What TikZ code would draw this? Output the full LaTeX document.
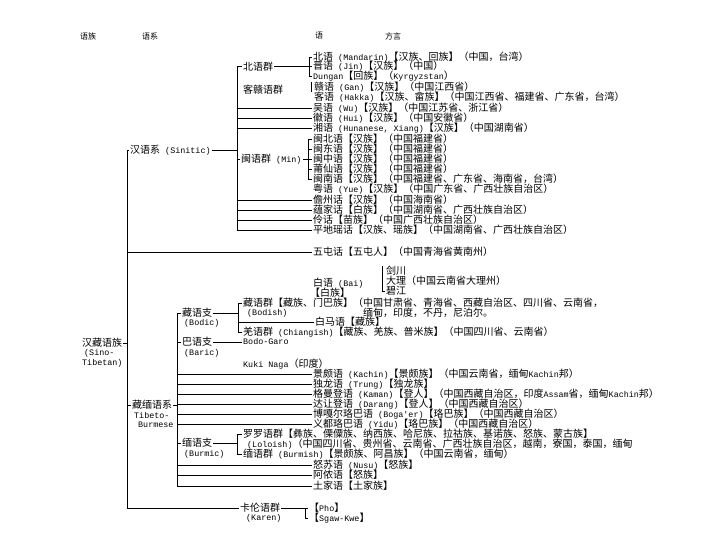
\documentclass[tikz,border=0pt]{standalone}
\usepackage{fontspec}
\newfontfamily\cjk{Noto Sans CJK SC}
\newfontfamily\asciifont{Liberation Mono}
\newcommand\lt[1]{{\asciifont\fontsize{8.4}{10}\selectfont #1}}
\begin{document}
\begin{tikzpicture}[x=1pt,y=-1pt]
\tikzset{
  txt/.style={anchor=west, inner sep=0pt, font=\cjk\fontsize{10}{10}\selectfont},
  hdr/.style={anchor=west, inner sep=0pt, font=\cjk\fontsize{8}{8}\selectfont},
  ln/.style={line width=0.7pt, black},
}
\useasboundingbox[fill=white] (0,0) rectangle (720,540);
% spine x positions
\coordinate (xA) at (127,0);
\coordinate (xB) at (237,0);
\coordinate (xBei) at (309,0);
\coordinate (xMin) at (308,0);
\coordinate (xBai) at (382,0);
\coordinate (xF) at (177,0);
\coordinate (xG) at (238,0);
\coordinate (xH) at (237,0);
\coordinate (xI) at (305,0);
% header
\node[hdr] (h1) at (80,36) {语族};
\node[hdr] (h2) at (142,36) {语系};
\node[hdr] (h3) at (315,36) {语};
\node[hdr] (h4) at (385,36) {方言};
% Sino-Tibetan
\node[txt] (st) at (82,343) {汉藏语族};
\node[txt] (st2) at (84,353) {\lt{(Sino-}};
\node[txt] (st3) at (82,363) {\lt{Tibetan)}};
% Sinitic
\node[txt] (sino) at (130,150) {汉语系\lt{ (Sinitic)}};
\node[txt] (bei) at (243,67) {北语群};
\node[txt] (n1) at (313,57) {北语\lt{ (Mandarin)}【汉族、回族】（中国，台湾）};
\node[txt] (n2) at (313,66) {晋语\lt{ (Jin)}【汉族】（中国）};
\node[txt] (n3) at (313,76) {\lt{Dungan}【回族】（\lt{Kyrgyzstan}）};
\node[txt] (kegan) at (243,90) {客赣语群};
\node[txt] (gan) at (314,87) {赣语\lt{ (Gan)}【汉族】（中国江西省）};
\node[txt] (ke) at (314,97) {客语\lt{ (Hakka)}【汉族、畲族】（中国江西省、福建省、广东省，台湾）};
\node[txt] (wu) at (313,108) {吴语\lt{ (Wu)}【汉族】（中国江苏省、浙江省）};
\node[txt] (hui) at (313,118) {徽语\lt{ (Hui)}【汉族】（中国安徽省）};
\node[txt] (xiang) at (313,128) {湘语\lt{ (Hunanese, Xiang)}【汉族】（中国湖南省）};
\node[txt] (minq) at (241,159) {闽语群\lt{ (Min)}};
\node[txt] (m1) at (313,139) {闽北语【汉族】（中国福建省）};
\node[txt] (m2) at (313,149) {闽东语【汉族】（中国福建省）};
\node[txt] (m3) at (313,159) {闽中语【汉族】（中国福建省）};
\node[txt] (m4) at (313,169) {莆仙语【汉族】（中国福建省）};
\node[txt] (m5) at (313,179) {闽南语【汉族】（中国福建省、广东省、海南省，台湾）};
\node[txt] (yue) at (313,189) {粤语\lt{ (Yue)}【汉族】（中国广东省、广西壮族自治区）};
\node[txt] (dan) at (313,200) {儋州话【汉族】（中国海南省）};
\node[txt] (jia) at (313,210) {蕴家话【白族】（中国湖南省、广西壮族自治区）};
\node[txt] (ling) at (313,220) {伶话【苗族】（中国广西壮族自治区）};
\node[txt] (pdy) at (313,230) {平地瑶话【汉族、瑶族】（中国湖南省、广西壮族自治区）};
\node[txt] (wutun) at (313,252) {五屯话【五屯人】（中国青海省黄南州）};
% Bai
\node[txt] (bai1) at (313,283) {白语\lt{ (Bai)}};
\node[txt] (bai2) at (310,293) {【白族】};
\node[txt] (jc) at (386,271) {剑川};
\node[txt] (dali) at (386,281) {大理（中国云南省大理州）};
\node[txt] (bj) at (386,291) {碧江};
% Tibeto-Burman
\node[txt] (tb) at (132,405) {藏缅语系};
\node[txt] (tb2) at (134,415) {\lt{Tibeto-}};
\node[txt] (tb3) at (138,425) {\lt{Burmese}};
\node[txt] (bodic) at (182,313) {藏语支};
\node[txt] (bodic2) at (184,323) {\lt{(Bodic)}};
\node[txt] (bodish) at (243,303) {藏语群【藏族、门巴族】（中国甘肃省、青海省、西藏自治区、四川省、云南省，};
\node[txt] (bodish2) at (247,313) {\lt{(Bodish)}};
\node[txt] (bodish3) at (363,313) {缅甸，印度，不丹，尼泊尔。};
\node[txt] (baima) at (315,322) {白马语【藏族】};
\node[txt] (qiang) at (243,332) {羌语群\lt{ (Chiangish)}【藏族、羌族、普米族】（中国四川省、云南省）};
\node[txt] (baric) at (182,342) {巴语支};
\node[txt] (baric2) at (184,353) {\lt{(Baric)}};
\node[txt] (bodo) at (243,342) {\lt{Bodo-Garo}};
\node[txt] (kuki) at (243,364) {\lt{Kuki Naga}（印度）};
\node[txt] (jp) at (313,374) {景颇语\lt{ (Kachin)}【景颇族】（中国云南省，缅甸\lt{Kachin}邦）};
\node[txt] (dulong) at (313,384) {独龙语\lt{ (Trung)}【独龙族】};
\node[txt] (km) at (313,394) {格曼登语\lt{ (Kaman)}【登人】（中国西藏自治区，印度\lt{Assam}省，缅甸\lt{Kachin}邦）};
\node[txt] (dr) at (313,404) {达让登语\lt{ (Darang)}【登人】（中国西藏自治区）};
\node[txt] (bg) at (313,414) {博嘎尔珞巴语\lt{ (Boga'er)}【珞巴族】（中国西藏自治区）};
\node[txt] (yd) at (313,424) {义都珞巴语\lt{ (Yidu)}【珞巴族】（中国西藏自治区）};
\node[txt] (burmic) at (182,443) {缅语支};
\node[txt] (burmic2) at (184,454) {\lt{(Burmic)}};
\node[txt] (lolo) at (243,434) {罗罗语群【彝族、傈僳族、纳西族、哈尼族、拉祜族、基诺族、怒族、蒙古族】};
\node[txt] (lolo2) at (247,444) {\lt{(Loloish)}（中国四川省、贵州省、云南省、广西壮族自治区，越南，寮国，泰国，缅甸};
\node[txt] (burm) at (243,454) {缅语群\lt{ (Burmish)}【景颇族、阿昌族】（中国云南省，缅甸）};
\node[txt] (nusu) at (313,465) {怒苏语\lt{ (Nusu)}【怒族】};
\node[txt] (anong) at (313,475) {阿侬语【怒族】};
\node[txt] (tujia) at (313,486) {土家语【土家族】};
\node[txt] (karen) at (240,508) {卡伦语群};
\node[txt] (karen2) at (246,518) {\lt{(Karen)}};
\node[txt] (pho) at (309,508) {【\lt{Pho}】};
\node[txt] (sgaw) at (309,518) {【\lt{Sgaw-Kwe}】};
% ---- connectors ----
% spine A
\draw[ln] (xA |- sino.west) -- (xA |- karen.west);
\draw[ln] (xA |- sino.west) -- ([xshift=-1pt]sino.west);
\draw[ln] ([xshift=1pt]st.east) -- (xA |- st.east);
\draw[ln] (xA |- wutun.west) -- ([xshift=-1pt]wutun.west);
\draw[ln] (xA |- tb.west) -- ([xshift=-1pt]tb.west);
\draw[ln] (xA |- karen.west) -- ([xshift=-1pt]karen.west);
% Sinitic spine
\draw[ln] ([xshift=1pt]sino.east) -- (xB |- sino.east);
\draw[ln] (xB |- n2.west) -- (xB |- pdy.west);
\draw[ln] (xB |- n2.west) -- ([xshift=-1pt]bei.west |- n2.west);
\draw[ln] ([xshift=1pt]bei.east |- n2.west) -- (xBei |- n2.west);
\draw[ln] (xBei |- n1.west) -- (xBei |- n3.west);
\foreach \n in {n1,n2,n3} \draw[ln] (xBei |- \n.west) -- ([xshift=-1pt]\n.west);
\draw[ln] ([xshift=-3pt]gan.north west) -- ([xshift=-3pt]gan.south west);
\foreach \n in {wu,hui,xiang,dan,jia,ling,pdy} \draw[ln] (xB |- \n.west) -- ([xshift=-1pt]\n.west);
\draw[ln] (xB |- minq.west) -- ([xshift=-1pt]minq.west);
\draw[ln] ([xshift=1pt]minq.east) -- (xMin |- minq.east);
\draw[ln] (xMin |- m1.west) -- (xMin |- m5.west);
\foreach \n in {m1,m2,m3,m4,m5} \draw[ln] (xMin |- \n.west) -- ([xshift=-1pt]\n.west);
% Bai
\draw[ln] (xBai |- jc.north) -- (xBai |- bj.west) -- ([xshift=-1pt]bj.west);
% Tibeto-Burman spine
\draw[ln] ([xshift=1pt]tb.east) -- (xF |- tb.east);
\draw[ln] (xF |- bodic.west) -- (xF |- tujia.west);
\draw[ln] (xF |- bodic.west) -- ([xshift=-1pt]bodic.west);
\draw[ln] ([xshift=1pt]bodic.east) -- (xG |- bodic.east);
\draw[ln] (xG |- bodish.west) -- (xG |- qiang.west);
\foreach \n in {bodish,baima,qiang} \draw[ln] (xG |- \n.west) -- ([xshift=-1pt]\n.west);
\draw[ln] (xF |- baric.west) -- ([xshift=-1pt]baric.west);
\draw[ln] ([xshift=1pt]baric.east) -- ([xshift=-1pt]bodo.west);
\foreach \n in {jp,dulong,km,dr,bg,yd,nusu,anong,tujia} \draw[ln] (xF |- \n.west) -- ([xshift=-1pt]\n.west);
\draw[ln] (xF |- burmic.west) -- ([xshift=-1pt]burmic.west);
\draw[ln] ([xshift=1pt]burmic.east) -- (xH |- burmic.east);
\draw[ln] (xH |- lolo.west) -- (xH |- burm.west);
\foreach \n in {lolo,burm} \draw[ln] (xH |- \n.west) -- ([xshift=-1pt]\n.west);
% Karen
\draw[ln] ([xshift=1pt]karen.east) -- (xI |- karen.east);
\draw[ln] (xI |- pho.west) -- (xI |- sgaw.west);
\foreach \n in {pho,sgaw} \draw[ln] (xI |- \n.west) -- ([xshift=-1pt]\n.west);
\end{tikzpicture}
\end{document}
